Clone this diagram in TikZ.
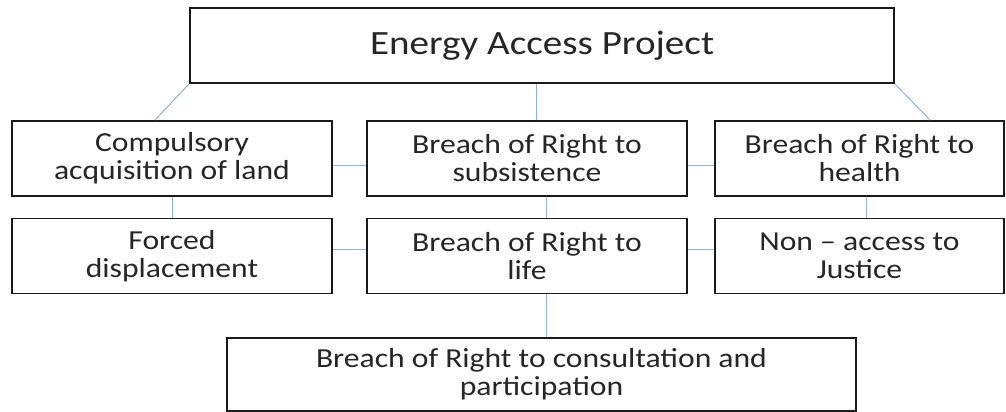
\documentclass[tikz,border=0pt]{standalone}
\usepackage{fontspec}
\setmainfont[FakeStretch=1.15]{Carlito}
\usetikzlibrary{positioning,calc}
\definecolor{ink}{HTML}{262626}
\definecolor{edge}{HTML}{1A1A1A}
\definecolor{link}{HTML}{8DB3E2}

\begin{document}
\begin{tikzpicture}[
  x=1pt,y=-1pt,
  box/.style={draw=edge,line width=1.9pt,fill=white,text=ink,align=center,
              inner sep=0pt,minimum height=75pt},
  rowbox/.style={box,minimum width=320pt,font=\fontsize{27.5}{28}\selectfont},
  link/.style={draw=link,line width=1pt}
]
\useasboundingbox[fill=white] (0,0) rectangle (1006,412);

% Project at the top
\node[box,minimum width=704pt,font=\fontsize{34}{34}\selectfont] (project) at (542,45.5)
  {\raisebox{-2pt}{Energy Access Project}};

% First row
\node[rowbox] (land) at (172,158.5) {Compulsory\\acquisition of land};
\node[rowbox] (subsist) at (527,158.5) {Breach of Right to\\subsistence};
\node[rowbox,minimum width=289pt] (health) at (859.5,158.5) {Breach of Right to\\health};

% Second row
\node[rowbox] (displace) at (172,256) {Forced\\displacement};
\node[rowbox] (life) at (527,256) {Breach of Right to\\life};
\node[rowbox,minimum width=289pt] (justice) at (859.5,256) {Non -- access to\\Justice};

% Bottom
\node[rowbox,minimum width=629pt,minimum height=73pt] (consult) at (541.5,374.5)
  {\raisebox{3pt}{Breach of Right to consultation and}\\\raisebox{3pt}{participation}};

% Links from the project
\draw[link] (project.south west) -- ([xshift=-17pt]land.north);
\draw[link] ([xshift=9pt]subsist.north) -- ([xshift=9pt]subsist.north |- project.south);
\draw[link] (project.south east) -- ([xshift=70.5pt]health.north);

% Links across the rows
\draw[link] ([yshift=-6.5pt]land.east) -- ([yshift=-6.5pt]subsist.west);
\draw[link] ([yshift=-6.5pt]subsist.east) -- ([yshift=-6.5pt]health.west);
\draw[link] ([yshift=7pt]displace.east) -- ([yshift=7pt]life.west);
\draw[link] ([yshift=7pt]life.east) -- ([yshift=7pt]justice.west);

% Links down the columns
\draw[link] (land.south) -- (displace.north);
\draw[link] ([xshift=19pt]subsist.south) -- ([xshift=19pt]life.north);
\draw[link] ([xshift=6.5pt]health.south) -- ([xshift=6.5pt]justice.north);
\draw[link] ([xshift=19pt]life.south) -- ([xshift=19pt]life.south |- consult.north);

\end{tikzpicture}
\end{document}
